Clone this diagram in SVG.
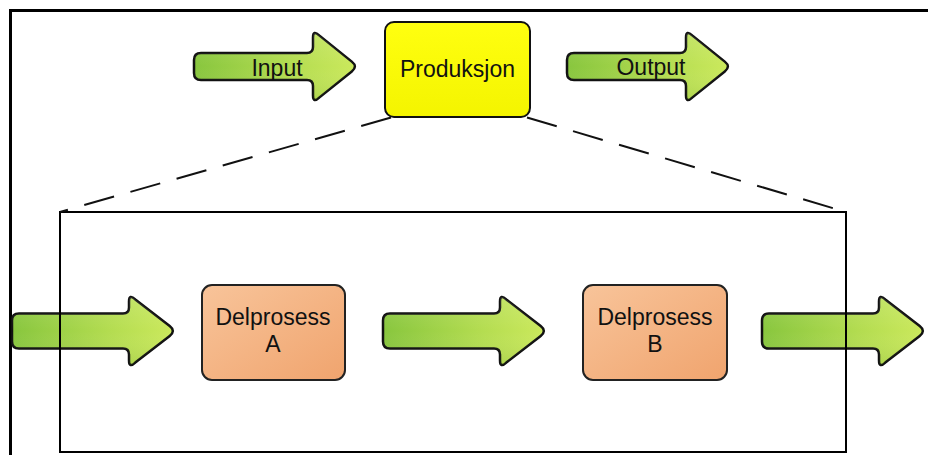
<svg xmlns="http://www.w3.org/2000/svg" width="928" height="455" viewBox="0 0 928 455">
  <defs>
    <style>
      .lbl { font-family: "Liberation Sans", Arial, sans-serif; font-size: 23px; fill: #111; text-anchor: middle; }
      .arrow { stroke: #111; stroke-width: 2.5; stroke-linejoin: round; }
      .frame { fill: none; stroke: #000; }
      .zoomline { fill: none; stroke: #111; stroke-width: 2; stroke-dasharray: 31 17; }
      .proc { stroke: #222; stroke-width: 2; }
    </style>
    <linearGradient id="gArrow" x1="0" y1="0" x2="1" y2="0">
      <stop offset="0" stop-color="#88c63e"/>
      <stop offset="0.6" stop-color="#b3dc50"/>
      <stop offset="1" stop-color="#cbe95c"/>
    </linearGradient>
    <linearGradient id="gShade" x1="0" y1="0" x2="0" y2="1">
      <stop offset="0" stop-color="#ffffff" stop-opacity="0.12"/>
      <stop offset="0.5" stop-color="#ffffff" stop-opacity="0"/>
      <stop offset="1" stop-color="#4a7a10" stop-opacity="0.12"/>
    </linearGradient>
    <linearGradient id="gYellow" x1="0" y1="0" x2="0" y2="1">
      <stop offset="0" stop-color="#ffff10"/>
      <stop offset="1" stop-color="#f4f400"/>
    </linearGradient>
    <linearGradient id="gOrange" x1="0" y1="0" x2="1" y2="1">
      <stop offset="0" stop-color="#f8c49a"/>
      <stop offset="1" stop-color="#f0a46e"/>
    </linearGradient>
    <!-- block arrow, wide shaft (origin at shaft start, centre line) -->
    <path id="arrowL" d="M7,-17.5 H111 Q117,-17.5 117,-23.5 V-29.5 Q117,-37.5 123.3,-31.6 L157.7,-4.9 Q164,0 157.7,4.9 L123.3,31.6 Q117,37.5 117,29.5 V23.5 Q117,17.5 111,17.5 H7 Q0,17.5 0,10.5 V-10.5 Q0,-17.5 7,-17.5 Z"/>
    <!-- block arrow, narrow shaft -->
    <path id="arrowS" d="M7,-13.5 H113 Q119,-13.5 119,-19.5 V-29 Q119,-37 125.2,-31.1 L157.8,-4.9 Q164,0 157.8,4.9 L125.2,31.1 Q119,37 119,29 V19.5 Q119,13.5 113,13.5 H7 Q0,13.5 0,6.5 V-6.5 Q0,-13.5 7,-13.5 Z"/>
  </defs>

  <rect width="928" height="455" fill="#ffffff"/>

  <!-- outer border -->
  <path class="frame" stroke-width="3" d="M10.5,455 V10.5 H928"/>

  <!-- flow arrows -->
  <g id="input">
    <use href="#arrowS" class="arrow" fill="url(#gArrow)" transform="translate(194,66.5)"/>
    <use href="#arrowS" fill="url(#gShade)" transform="translate(194,66.5)"/>
    <text class="lbl" x="277" y="76">Input</text>
  </g>
  <g id="output">
    <use href="#arrowS" class="arrow" fill="url(#gArrow)" transform="translate(567,66.5)"/>
    <use href="#arrowS" fill="url(#gShade)" transform="translate(567,66.5)"/>
    <text class="lbl" x="651" y="75">Output</text>
  </g>
  <g id="flow-in">
    <use href="#arrowL" class="arrow" fill="url(#gArrow)" transform="translate(12,331)"/>
    <use href="#arrowL" fill="url(#gShade)" transform="translate(12,331)"/>
  </g>
  <g id="flow-mid">
    <use href="#arrowL" class="arrow" fill="url(#gArrow)" transform="translate(383,331)"/>
    <use href="#arrowL" fill="url(#gShade)" transform="translate(383,331)"/>
  </g>
  <g id="flow-out">
    <use href="#arrowL" class="arrow" fill="url(#gArrow)" transform="translate(762,331)"/>
    <use href="#arrowL" fill="url(#gShade)" transform="translate(762,331)"/>
  </g>

  <!-- detail frame of the production step -->
  <g id="detail-frame">
    <rect class="frame" stroke-width="2" x="60" y="212" width="786" height="240"/>
  </g>

  <!-- dashed zoom lines from the production box to the detail frame -->
  <g id="connectors">
    <line class="zoomline" x1="391" y1="117.5" x2="60" y2="212"/>
    <line class="zoomline" x1="527" y1="117.5" x2="846" y2="212"/>
  </g>

  <g id="produksjon">
    <rect x="385" y="22" width="145" height="95" rx="9" fill="url(#gYellow)" stroke="#111" stroke-width="2"/>
    <text class="lbl" x="457.5" y="77">Produksjon</text>
  </g>

  <g id="delprosess-a">
    <rect class="proc" x="202" y="285" width="143" height="95" rx="10" fill="url(#gOrange)"/>
    <text class="lbl" x="273" y="325">Delprosess</text>
    <text class="lbl" x="273" y="352">A</text>
  </g>

  <g id="delprosess-b">
    <rect class="proc" x="583" y="285" width="144" height="95" rx="10" fill="url(#gOrange)"/>
    <text class="lbl" x="655" y="325">Delprosess</text>
    <text class="lbl" x="655" y="352">B</text>
  </g>
</svg>
